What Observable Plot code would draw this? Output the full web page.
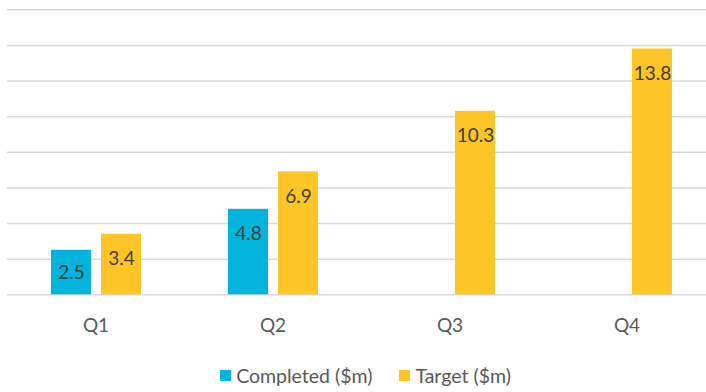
<!DOCTYPE html>
<html>
<head>
<meta charset="utf-8">
<script src="https://cdn.jsdelivr.net/npm/d3@7"></script>
<script src="https://cdn.jsdelivr.net/npm/@observablehq/plot@0.6"></script>
<style>
  html, body { margin: 0; padding: 0; background: #fff; overflow: hidden; }
  body { width: 706px; height: 392px; font-family: Lato, "Open Sans", sans-serif; }
  #legend {
    width: 731px; display: flex; justify-content: center; align-items: center;
    gap: 27px; font-size: 19.5px; color: #595959; margin-top: 19px;
  }
  #legend .item { display: flex; align-items: center; gap: 5px; }
  #legend .sw { width: 11px; height: 11px; display: inline-block; }
</style>
</head>
<body>
<div id="chart"></div>
<script>
// Quarterly completed vs. target values ($m)
const quarters = ["Q1", "Q2", "Q3", "Q4"];
const seriesNames = ["Completed ($m)", "Target ($m)"];
const completed = [2.5, 4.8, null, null];
const target = [3.4, 6.9, 10.3, 13.8];
const gridTicks = [0, 2, 4, 6, 8, 10, 12, 14, 16];
const colors = ["#00B4DC", "#FFC426"];

const rows = [];
quarters.forEach((q, i) => {
  if (completed[i] != null) rows.push({quarter: q, series: seriesNames[0], value: completed[i]});
  if (target[i] != null) rows.push({quarter: q, series: seriesNames[1], value: target[i]});
});

const plot = Plot.plot({
  width: 706,
  height: 345,
  marginLeft: 7,
  marginRight: -9,
  marginTop: 9.3,
  marginBottom: 50.7,
  style: {fontFamily: "Lato, 'Open Sans', sans-serif", overflow: "visible"},
  fx: {domain: quarters, padding: 0, label: null},
  x: {domain: seriesNames, paddingInner: 0.21, paddingOuter: 0.875, axis: null},
  y: {domain: [0, 16], axis: null},
  color: {domain: seriesNames, range: colors},
  marks: [
    Plot.ruleY(gridTicks, {stroke: "#d9d9d9", strokeWidth: 1.4}),
    Plot.barY(rows, {fx: "quarter", x: "series", y: "value", fill: "series"}),
    Plot.text(rows, {
      fx: "quarter", x: "series",
      y: d => Math.max(d.value - 1.4, d.value / 2),
      text: d => d.value.toFixed(1),
      fill: "#404040", fontSize: 19
    }),
    Plot.axisFx({anchor: "bottom", tickSize: 0, tickPadding: 24, fontSize: 19, fill: "#595959", label: null})
  ]
});
document.getElementById("chart").appendChild(plot);

// Legend below the chart
const legend = document.createElement("div");
legend.id = "legend";
seriesNames.forEach((name, i) => {
  const item = document.createElement("span");
  item.className = "item";
  const sw = document.createElement("span");
  sw.className = "sw";
  sw.style.background = colors[i];
  const label = document.createElement("span");
  label.textContent = name;
  item.appendChild(sw);
  item.appendChild(label);
  legend.appendChild(item);
});
document.body.appendChild(legend);
</script>
</body>
</html>
